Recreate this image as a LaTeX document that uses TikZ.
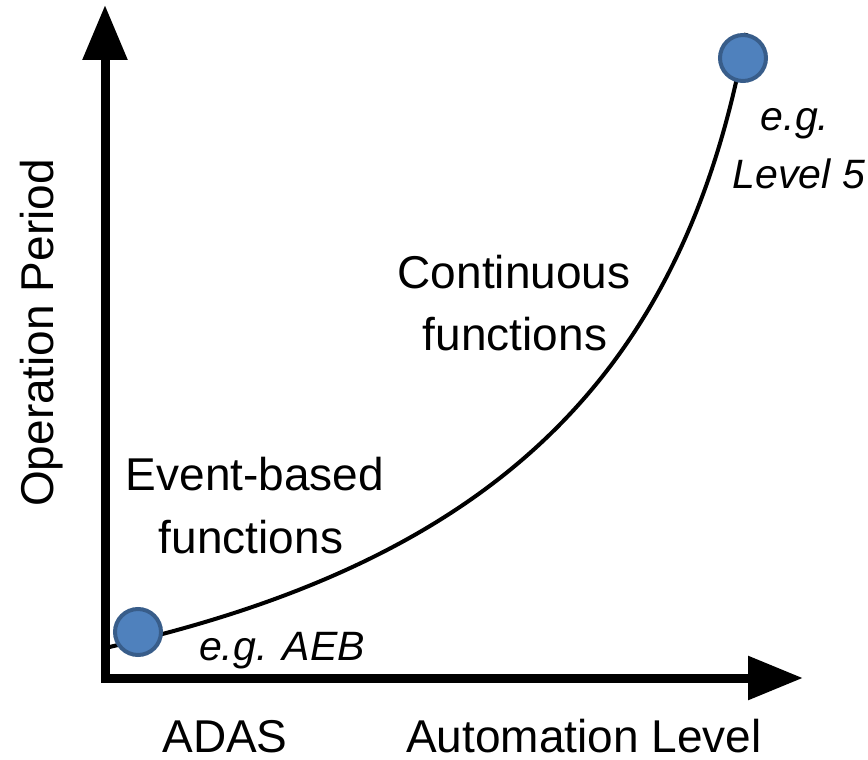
\documentclass[tikz,border=0pt]{standalone}
\usepackage{fontspec}
\setmainfont{Liberation Sans}
\usetikzlibrary{arrows.meta}
\definecolor{dotfill}{HTML}{4F81BD}
\definecolor{dotline}{HTML}{385D8A}
\begin{document}
\begin{tikzpicture}[x=1pt,y=-1pt,
  lbl/.style={font=\fontsize{46}{55}\selectfont, inner sep=0pt, anchor=base},
  ital/.style={font=\fontsize{41}{50}\selectfont\itshape, inner sep=0pt, anchor=base},
  axisline/.style={line width=9pt, line join=miter,
     {Triangle[length=55pt,width=43pt]}-{Triangle[length=55pt,width=42pt]}},
  dot/.style={circle, fill=dotfill, draw=dotline, line width=4pt, minimum size=46pt, inner sep=0pt},
  curveline/.style={line width=4pt}]
\useasboundingbox (0,0) rectangle (868,760);
% axes
\coordinate (ytip) at (105,5);
\coordinate (origin) at (105,678);
\coordinate (xtip) at (803,678);
\draw[axisline] (ytip) -- (origin) -- (xtip);
% curve
\coordinate (cstart) at (105,648);
\coordinate (c1) at (492,561);
\coordinate (c2) at (684,377);
\coordinate (cend) at (746,33);
\draw[curveline] (cstart) .. controls (c1) and (c2) .. (cend);
% dots
\node[dot] (adas) at (138,632) {};
\node[dot] (lvl) at (743,58) {};
% labels
\node[lbl, rotate=90] (ylab) at (53,333) {Operation Period};
\node[lbl, text depth=0pt] (xlab) at (584,752) {Automation Level};
\node[lbl, text depth=0pt] (adaslab) at (225,752) {ADAS};
\node[lbl] (cont1) at (514,288) {Continuous};
\node[lbl] (cont2) at (515,350) {functions};
\node[lbl] (ev1) at (255,490) {Event-based};
\node[lbl] (ev2) at (251,553) {functions};
\node[ital] (aeb) at (282,660) {e.g. AEB};
\node[ital] (eg) at (795,130) {e.g.};
\node[ital] (l5) at (799,188) {Level 5};
\end{tikzpicture}
\end{document}
